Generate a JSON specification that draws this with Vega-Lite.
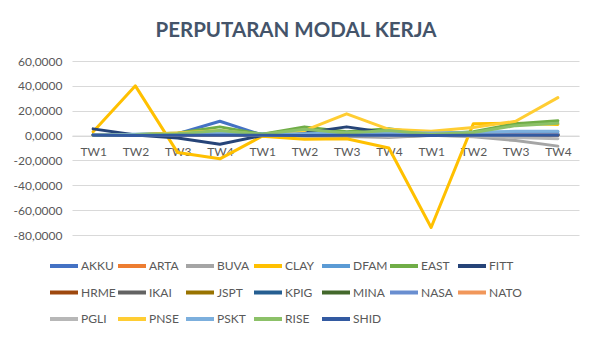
{
  "$schema": "https://vega.github.io/schema/vega-lite/v6.json",
  "width": 507,
  "height": 174,
  "autosize": {"type": "none"},
  "padding": {"left": 72, "top": 61, "right": 22, "bottom": 102},
  "background": "white",
  "title": {
    "text": "PERPUTARAN MODAL KERJA",
    "anchor": "middle",
    "frame": "bounds",
    "font": "Lato",
    "fontSize": 20.5,
    "fontWeight": "bold",
    "color": "#44546A",
    "offset": 14
  },
  "config": {
    "view": {"stroke": null},
    "font": "Lato"
  },
  "data": {
    "values": [
      {"s":"AKKU","p":1,"v":0.5},{"s":"AKKU","p":2,"v":0.3},{"s":"AKKU","p":3,"v":1.5},{"s":"AKKU","p":4,"v":11.5},{"s":"AKKU","p":5,"v":0.5},{"s":"AKKU","p":6,"v":0.5},{"s":"AKKU","p":7,"v":0.8},{"s":"AKKU","p":8,"v":1.0},{"s":"AKKU","p":9,"v":0.3},{"s":"AKKU","p":10,"v":0.5},{"s":"AKKU","p":11,"v":0.8},{"s":"AKKU","p":12,"v":1.0},
      {"s":"ARTA","p":1,"v":0.2},{"s":"ARTA","p":2,"v":0.3},{"s":"ARTA","p":3,"v":0.2},{"s":"ARTA","p":4,"v":0.4},{"s":"ARTA","p":5,"v":0.1},{"s":"ARTA","p":6,"v":0.3},{"s":"ARTA","p":7,"v":0.2},{"s":"ARTA","p":8,"v":0.3},{"s":"ARTA","p":9,"v":0.1},{"s":"ARTA","p":10,"v":0.2},{"s":"ARTA","p":11,"v":0.3},{"s":"ARTA","p":12,"v":0.2},
      {"s":"BUVA","p":1,"v":0.5},{"s":"BUVA","p":2,"v":0.3},{"s":"BUVA","p":3,"v":0.8},{"s":"BUVA","p":4,"v":1.0},{"s":"BUVA","p":5,"v":0.5},{"s":"BUVA","p":6,"v":-0.5},{"s":"BUVA","p":7,"v":-0.8},{"s":"BUVA","p":8,"v":-1.5},{"s":"BUVA","p":9,"v":0.3},{"s":"BUVA","p":10,"v":-1.0},{"s":"BUVA","p":11,"v":-4.0},{"s":"BUVA","p":12,"v":-8.5},
      {"s":"CLAY","p":1,"v":3.0},{"s":"CLAY","p":2,"v":40.0},{"s":"CLAY","p":3,"v":-13.7},{"s":"CLAY","p":4,"v":-18.7},{"s":"CLAY","p":5,"v":-0.5},{"s":"CLAY","p":6,"v":-3.0},{"s":"CLAY","p":7,"v":-2.5},{"s":"CLAY","p":8,"v":-10.0},{"s":"CLAY","p":9,"v":-74.0},{"s":"CLAY","p":10,"v":9.6},{"s":"CLAY","p":11,"v":10.0},{"s":"CLAY","p":12,"v":9.0},
      {"s":"DFAM","p":1,"v":0.8},{"s":"DFAM","p":2,"v":1.0},{"s":"DFAM","p":3,"v":1.5},{"s":"DFAM","p":4,"v":3.0},{"s":"DFAM","p":5,"v":1.5},{"s":"DFAM","p":6,"v":2.0},{"s":"DFAM","p":7,"v":2.5},{"s":"DFAM","p":8,"v":2.5},{"s":"DFAM","p":9,"v":2.0},{"s":"DFAM","p":10,"v":2.5},{"s":"DFAM","p":11,"v":3.0},{"s":"DFAM","p":12,"v":3.0},
      {"s":"EAST","p":1,"v":0.5},{"s":"EAST","p":2,"v":0.8},{"s":"EAST","p":3,"v":2.0},{"s":"EAST","p":4,"v":7.0},{"s":"EAST","p":5,"v":1.0},{"s":"EAST","p":6,"v":7.0},{"s":"EAST","p":7,"v":3.0},{"s":"EAST","p":8,"v":5.5},{"s":"EAST","p":9,"v":1.0},{"s":"EAST","p":10,"v":3.0},{"s":"EAST","p":11,"v":9.6},{"s":"EAST","p":12,"v":12.0},
      {"s":"FITT","p":1,"v":5.4},{"s":"FITT","p":2,"v":0.5},{"s":"FITT","p":3,"v":-2.0},{"s":"FITT","p":4,"v":-7.0},{"s":"FITT","p":5,"v":0.0},{"s":"FITT","p":6,"v":2.0},{"s":"FITT","p":7,"v":7.0},{"s":"FITT","p":8,"v":2.0},{"s":"FITT","p":9,"v":0.5},{"s":"FITT","p":10,"v":0.5},{"s":"FITT","p":11,"v":0.5},{"s":"FITT","p":12,"v":0.5},
      {"s":"HRME","p":1,"v":0.3},{"s":"HRME","p":2,"v":0.2},{"s":"HRME","p":3,"v":0.3},{"s":"HRME","p":4,"v":0.4},{"s":"HRME","p":5,"v":0.2},{"s":"HRME","p":6,"v":0.3},{"s":"HRME","p":7,"v":0.3},{"s":"HRME","p":8,"v":0.2},{"s":"HRME","p":9,"v":0.2},{"s":"HRME","p":10,"v":0.3},{"s":"HRME","p":11,"v":0.3},{"s":"HRME","p":12,"v":0.3},
      {"s":"IKAI","p":1,"v":0.2},{"s":"IKAI","p":2,"v":0.1},{"s":"IKAI","p":3,"v":0.2},{"s":"IKAI","p":4,"v":0.3},{"s":"IKAI","p":5,"v":0.1},{"s":"IKAI","p":6,"v":0.2},{"s":"IKAI","p":7,"v":0.1},{"s":"IKAI","p":8,"v":-0.5},{"s":"IKAI","p":9,"v":0.1},{"s":"IKAI","p":10,"v":0.2},{"s":"IKAI","p":11,"v":0.1},{"s":"IKAI","p":12,"v":0.2},
      {"s":"JSPT","p":1,"v":0.4},{"s":"JSPT","p":2,"v":0.3},{"s":"JSPT","p":3,"v":0.5},{"s":"JSPT","p":4,"v":0.6},{"s":"JSPT","p":5,"v":0.3},{"s":"JSPT","p":6,"v":0.4},{"s":"JSPT","p":7,"v":0.5},{"s":"JSPT","p":8,"v":0.4},{"s":"JSPT","p":9,"v":0.3},{"s":"JSPT","p":10,"v":0.4},{"s":"JSPT","p":11,"v":0.5},{"s":"JSPT","p":12,"v":0.5},
      {"s":"KPIG","p":1,"v":0.3},{"s":"KPIG","p":2,"v":0.2},{"s":"KPIG","p":3,"v":0.4},{"s":"KPIG","p":4,"v":0.5},{"s":"KPIG","p":5,"v":0.3},{"s":"KPIG","p":6,"v":0.4},{"s":"KPIG","p":7,"v":0.6},{"s":"KPIG","p":8,"v":0.4},{"s":"KPIG","p":9,"v":0.3},{"s":"KPIG","p":10,"v":0.4},{"s":"KPIG","p":11,"v":0.4},{"s":"KPIG","p":12,"v":0.4},
      {"s":"MINA","p":1,"v":0.4},{"s":"MINA","p":2,"v":0.5},{"s":"MINA","p":3,"v":0.6},{"s":"MINA","p":4,"v":1.0},{"s":"MINA","p":5,"v":0.5},{"s":"MINA","p":6,"v":0.8},{"s":"MINA","p":7,"v":0.7},{"s":"MINA","p":8,"v":0.8},{"s":"MINA","p":9,"v":0.5},{"s":"MINA","p":10,"v":0.7},{"s":"MINA","p":11,"v":0.9},{"s":"MINA","p":12,"v":1.0},
      {"s":"NASA","p":1,"v":0.6},{"s":"NASA","p":2,"v":0.8},{"s":"NASA","p":3,"v":1.0},{"s":"NASA","p":4,"v":1.5},{"s":"NASA","p":5,"v":0.8},{"s":"NASA","p":6,"v":1.0},{"s":"NASA","p":7,"v":1.2},{"s":"NASA","p":8,"v":1.0},{"s":"NASA","p":9,"v":0.8},{"s":"NASA","p":10,"v":1.0},{"s":"NASA","p":11,"v":1.2},{"s":"NASA","p":12,"v":1.2},
      {"s":"NATO","p":1,"v":0.2},{"s":"NATO","p":2,"v":0.2},{"s":"NATO","p":3,"v":0.3},{"s":"NATO","p":4,"v":0.3},{"s":"NATO","p":5,"v":0.2},{"s":"NATO","p":6,"v":0.2},{"s":"NATO","p":7,"v":0.3},{"s":"NATO","p":8,"v":0.2},{"s":"NATO","p":9,"v":0.2},{"s":"NATO","p":10,"v":0.2},{"s":"NATO","p":11,"v":0.3},{"s":"NATO","p":12,"v":0.3},
      {"s":"PGLI","p":1,"v":0.3},{"s":"PGLI","p":2,"v":0.2},{"s":"PGLI","p":3,"v":0.5},{"s":"PGLI","p":4,"v":0.8},{"s":"PGLI","p":5,"v":0.3},{"s":"PGLI","p":6,"v":0.4},{"s":"PGLI","p":7,"v":0.3},{"s":"PGLI","p":8,"v":-0.8},{"s":"PGLI","p":9,"v":0.2},{"s":"PGLI","p":10,"v":-0.4},{"s":"PGLI","p":11,"v":-1.5},{"s":"PGLI","p":12,"v":-2.5},
      {"s":"PNSE","p":1,"v":0.0},{"s":"PNSE","p":2,"v":0.5},{"s":"PNSE","p":3,"v":2.0},{"s":"PNSE","p":4,"v":4.0},{"s":"PNSE","p":5,"v":0.5},{"s":"PNSE","p":6,"v":4.0},{"s":"PNSE","p":7,"v":17.5},{"s":"PNSE","p":8,"v":5.0},{"s":"PNSE","p":9,"v":3.5},{"s":"PNSE","p":10,"v":6.5},{"s":"PNSE","p":11,"v":11.5},{"s":"PNSE","p":12,"v":30.5},
      {"s":"PSKT","p":1,"v":0.5},{"s":"PSKT","p":2,"v":0.8},{"s":"PSKT","p":3,"v":1.0},{"s":"PSKT","p":4,"v":2.0},{"s":"PSKT","p":5,"v":1.0},{"s":"PSKT","p":6,"v":1.5},{"s":"PSKT","p":7,"v":2.0},{"s":"PSKT","p":8,"v":2.5},{"s":"PSKT","p":9,"v":2.0},{"s":"PSKT","p":10,"v":2.5},{"s":"PSKT","p":11,"v":3.5},{"s":"PSKT","p":12,"v":3.5},
      {"s":"RISE","p":1,"v":0.3},{"s":"RISE","p":2,"v":0.5},{"s":"RISE","p":3,"v":1.5},{"s":"RISE","p":4,"v":4.0},{"s":"RISE","p":5,"v":1.0},{"s":"RISE","p":6,"v":5.0},{"s":"RISE","p":7,"v":2.0},{"s":"RISE","p":8,"v":4.0},{"s":"RISE","p":9,"v":1.0},{"s":"RISE","p":10,"v":2.5},{"s":"RISE","p":11,"v":8.0},{"s":"RISE","p":12,"v":10.0},
      {"s":"SHID","p":1,"v":0.2},{"s":"SHID","p":2,"v":0.1},{"s":"SHID","p":3,"v":0.2},{"s":"SHID","p":4,"v":0.3},{"s":"SHID","p":5,"v":0.2},{"s":"SHID","p":6,"v":0.1},{"s":"SHID","p":7,"v":0.2},{"s":"SHID","p":8,"v":0.2},{"s":"SHID","p":9,"v":0.1},{"s":"SHID","p":10,"v":0.2},{"s":"SHID","p":11,"v":0.2},{"s":"SHID","p":12,"v":0.2}
    ]
  },
  "mark": {"type": "line", "strokeWidth": 3, "strokeJoin": "round", "strokeCap": "round"},
  "encoding": {
    "x": {
      "field": "p",
      "type": "ordinal",
      "scale": {"type": "point", "padding": 0.5},
      "axis": {
        "title": null,
        "labelAngle": 0,
        "offset": -99.43,
        "domain": true,
        "domainColor": "#D9D9D9",
        "domainWidth": 1,
        "ticks": false,
        "grid": false,
        "labelPadding": 11,
        "labelColor": "#595959",
        "labelFontSize": 12,
        "labelFont": "Lato",
        "labelExpr": "'TW' + (((datum.value - 1) % 4) + 1)"
      }
    },
    "y": {
      "field": "v",
      "type": "quantitative",
      "scale": {"domain": [-80, 60], "nice": false},
      "axis": {
        "title": null,
        "values": [-80, -60, -40, -20, 0, 20, 40, 60],
        "grid": true,
        "gridColor": "#D9D9D9",
        "domain": false,
        "ticks": false,
        "labelPadding": 10,
        "labelColor": "#595959",
        "labelFontSize": 12,
        "labelFont": "Lato",
        "labelExpr": "(datum.value < 0 ? '-' : '') + replace(format(abs(datum.value), '.4f'), '.', ',')"
      }
    },
    "color": {
      "field": "s",
      "type": "nominal",
      "scale": {
        "domain": ["AKKU","ARTA","BUVA","CLAY","DFAM","EAST","FITT","HRME","IKAI","JSPT","KPIG","MINA","NASA","NATO","PGLI","PNSE","PSKT","RISE","SHID"],
        "range": ["#4472C4","#ED7D31","#A5A5A5","#FFC000","#5B9BD5","#70AD47","#264478","#9E480E","#636363","#997300","#255E91","#43682B","#698ED0","#F1975A","#B7B7B7","#FFCD33","#7CAFDD","#8CC168","#335AA1"]
      },
      "legend": {
        "title": null,
        "orient": "none",
        "legendX": -24,
        "legendY": 189,
        "direction": "horizontal",
        "columns": 7,
        "gridAlign": "all",
        "symbolType": "stroke",
        "symbolSize": 784,
        "symbolStrokeWidth": 4,
        "labelOffset": 1,
        "columnPadding": -13,
        "rowPadding": 2.5,
        "labelFontSize": 12,
        "labelFont": "Lato",
        "labelColor": "#595959"
      }
    }
  }
}
